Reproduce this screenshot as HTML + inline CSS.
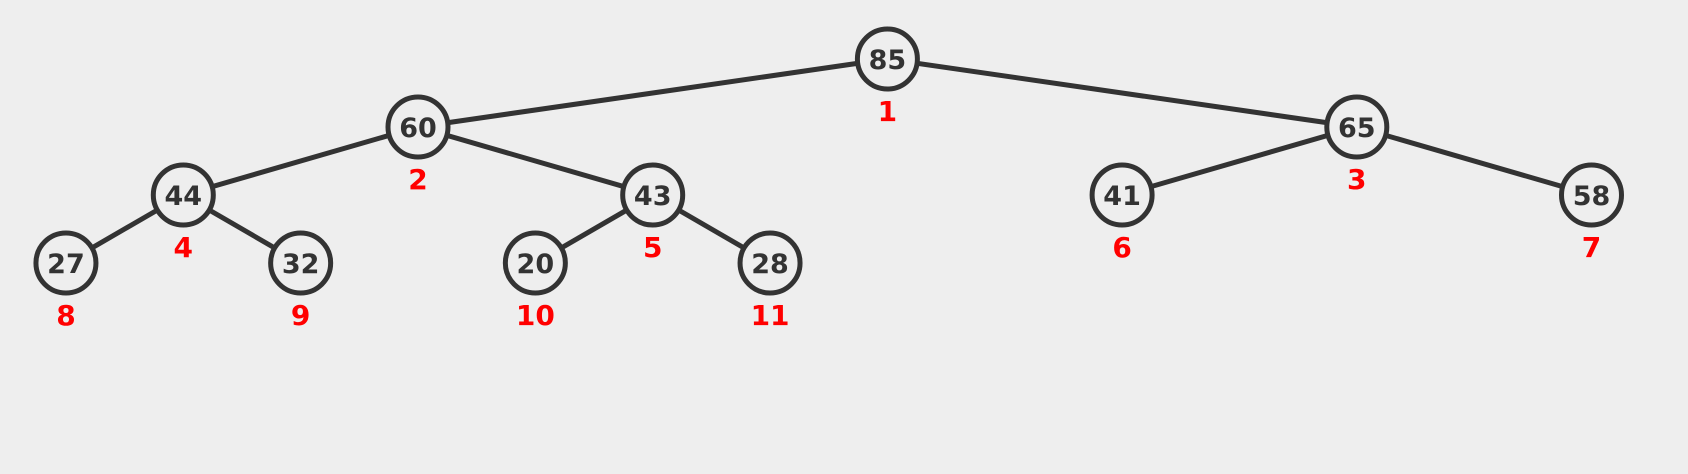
<!DOCTYPE html>
<html><head><meta charset="utf-8"><style>
html,body{margin:0;padding:0;background:#eeeeee;}
svg{display:block;}
.n{font-family:"DejaVu Sans","Liberation Sans",sans-serif;font-weight:bold;font-size:27px;fill:#333;}
.l{font-family:"DejaVu Sans","Liberation Sans",sans-serif;font-weight:bold;font-size:28px;fill:#ff0000;}
</style></head><body>
<svg id="c" width="1688" height="474"></svg>
<script>
const values=[85,60,65,44,43,41,58,27,32,20,28];
const indices=[1,2,3,4,5,6,7,8,9,10,11];
const svg=document.getElementById('c');
const NS='http://www.w3.org/2000/svg';
const W=1877.6,L=-51.4,Y0=59,DY=68,R=30;
function pos(i){const d=Math.floor(Math.log2(i+1));const k=i+1-Math.pow(2,d);return [L+(k+0.5)*W/Math.pow(2,d),Y0+d*DY];}
const eg=document.createElementNS(NS,'g');svg.appendChild(eg);
for(let i=1;i<values.length;i++){
 const p=pos(i),q=pos(Math.floor((i-1)/2));
 const ln=document.createElementNS(NS,'line');
 ln.setAttribute('x1',q[0]);ln.setAttribute('y1',q[1]);ln.setAttribute('x2',p[0]);ln.setAttribute('y2',p[1]);
 ln.setAttribute('stroke','#333');ln.setAttribute('stroke-width','5');
 
 
 eg.appendChild(ln);
}
for(let i=0;i<values.length;i++){
 const p=pos(i);
 const g=document.createElementNS(NS,'g');
 
 
 const c=document.createElementNS(NS,'circle');
 c.setAttribute('cx',p[0]);c.setAttribute('cy',p[1]);c.setAttribute('r',R);
 c.setAttribute('fill','#eeeeee');c.setAttribute('stroke','#333');c.setAttribute('stroke-width','5');
 g.appendChild(c);
 const t=document.createElementNS(NS,'text');
 t.setAttribute('x',p[0]);t.setAttribute('y',p[1]+10);t.setAttribute('text-anchor','middle');t.setAttribute('class','n');
 t.textContent=values[i];g.appendChild(t);
 const lb=document.createElementNS(NS,'text');
 lb.setAttribute('x',p[0]);lb.setAttribute('y',p[1]+62);lb.setAttribute('text-anchor','middle');lb.setAttribute('class','l');
 
 
 lb.textContent=indices[i];g.appendChild(lb);
 svg.appendChild(g);
}
</script>
</body></html>
